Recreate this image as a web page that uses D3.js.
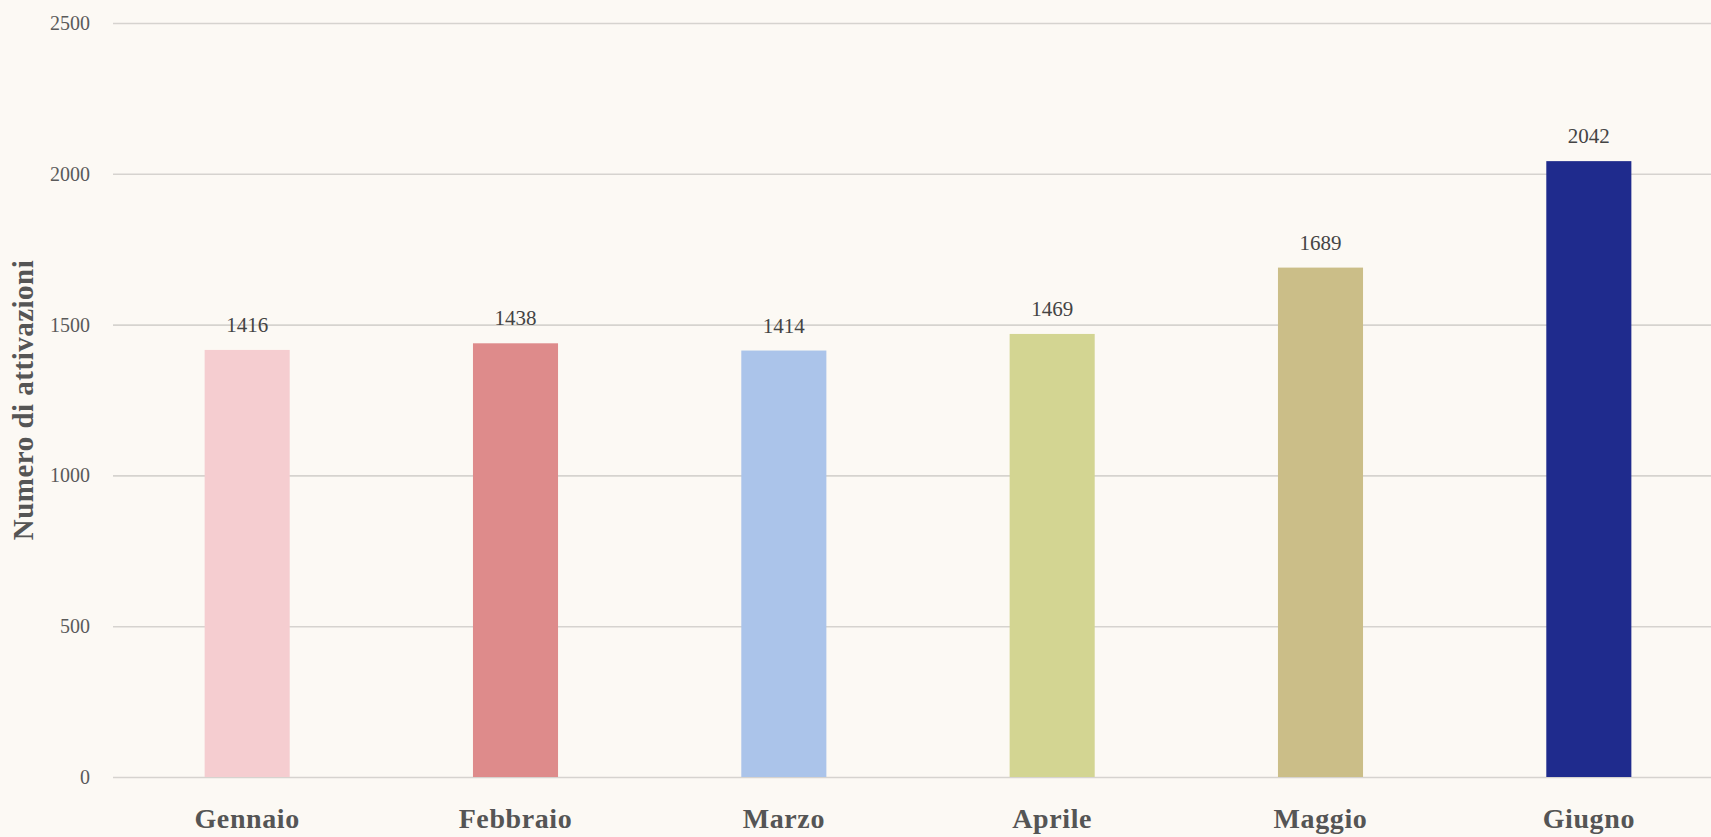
<!DOCTYPE html>
<html>
<head>
<meta charset="utf-8">
<script src="https://cdn.jsdelivr.net/npm/d3@7"></script>
<style>
  html, body { margin: 0; padding: 0; background: #fcf9f4; }
  svg { display: block; }
</style>
</head>
<body>
<svg id="chart" width="1711" height="837"></svg>
<script>
const categories = ["Gennaio", "Febbraio", "Marzo", "Aprile", "Maggio", "Giugno"];
const values = [1416, 1438, 1414, 1469, 1689, 2042];
const colors = ["#f5cdd0", "#de8b8b", "#abc4ea", "#d3d592", "#cbbe88", "#1f2b8d"];
const yTicks = [0, 500, 1000, 1500, 2000, 2500];
const yTitle = "Numero di attivazioni";

(function () {
const W = 1711, H = 837;
const mLeft = 113, mRight = 1723, mTop = 23, mBottom = 777;
const font = "'Liberation Serif', 'DejaVu Serif', serif";

const svg = d3.select("#chart");
svg.append("rect").attr("width", W).attr("height", H).attr("fill", "#fcf9f4");

const x = d3.scaleBand().domain(categories).range([mLeft, mRight]).paddingInner(0.683).paddingOuter(0.3415);
const y = d3.scaleLinear().domain([0, 2500]).range([mBottom, mTop]);

// gridlines
const grid = svg.append("g")
  .attr("transform", `translate(${mLeft},0)`)
  .call(d3.axisLeft(y).tickValues(yTicks).tickSize(-(W - mLeft)).tickFormat(""));
grid.select(".domain").remove();
grid.selectAll(".tick line").attr("stroke", "#d6d3cf").attr("stroke-width", 1.6);

// y tick labels
const yAxis = svg.append("g")
  .attr("transform", `translate(${mLeft - 23},0)`)
  .call(d3.axisLeft(y).tickValues(yTicks).tickSize(0).tickPadding(0).tickFormat(d3.format("d")));
yAxis.select(".domain").remove();
yAxis.selectAll("text")
  .attr("font-family", font).attr("font-size", 20).attr("fill", "#5a5a5a");

// bars
svg.append("g").selectAll("rect").data(values).join("rect")
  .attr("x", (d, i) => x(categories[i]))
  .attr("width", x.bandwidth())
  .attr("y", d => y(d))
  .attr("height", d => y(0) - y(d))
  .attr("fill", (d, i) => colors[i]);

// value labels
svg.append("g").selectAll("text").data(values).join("text")
  .attr("x", (d, i) => x(categories[i]) + x.bandwidth() / 2)
  .attr("y", d => y(d) - 18)
  .attr("text-anchor", "middle")
  .attr("font-family", font).attr("font-size", 21).attr("fill", "#444")
  .text(d => d);

// x axis labels
const xAxis = svg.append("g")
  .attr("transform", `translate(0,${mBottom})`)
  .call(d3.axisBottom(x).tickSize(0).tickPadding(0));
xAxis.select(".domain").remove();
xAxis.selectAll("text")
  .attr("dy", null)
  .attr("y", 51)
  .attr("font-family", font).attr("font-size", 28).attr("font-weight", "bold").attr("fill", "#555")
  .attr("letter-spacing", 0.6);

// y title
svg.append("text")
  .attr("transform", `translate(33,${(mTop + mBottom) / 2}) rotate(-90)`)
  .attr("text-anchor", "middle")
  .attr("font-family", font).attr("font-size", 29).attr("font-weight", "bold").attr("fill", "#555")
  .attr("letter-spacing", 0.5)
  .text(yTitle);
})();
</script>
</body>
</html>
